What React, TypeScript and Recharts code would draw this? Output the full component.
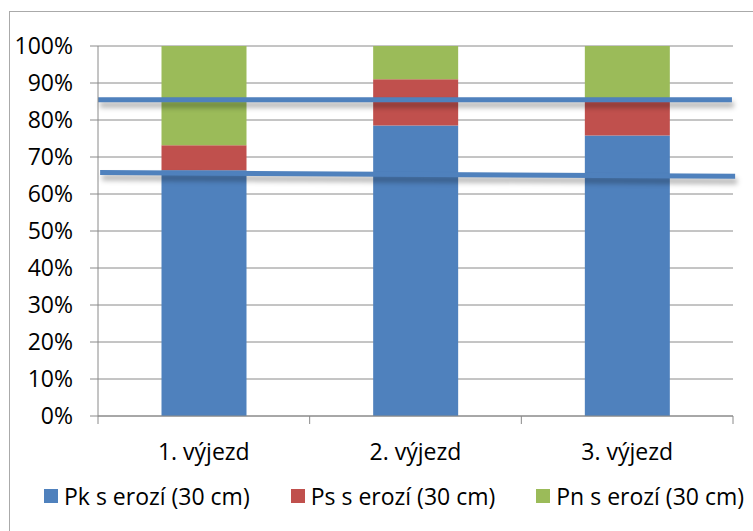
import React from 'react';
import { BarChart, Bar, XAxis, YAxis, CartesianGrid, ReferenceLine, Legend } from 'recharts';

// values (percent of the stack)
const trips = ['1. výjezd', '2. výjezd', '3. výjezd'];
const pkValues = [66.4, 78.5, 75.8];
const psValues = [6.8, 12.5, 10.0];
const pnValues = [26.8, 9.0, 14.2];

const seriesNames = ['Pk s erozí (30 cm)', 'Ps s erozí (30 cm)', 'Pn s erozí (30 cm)'];
const seriesColors = ['#4F81BD', '#C0504D', '#9BBB59'];
const yTicks = [0, 10, 20, 30, 40, 50, 60, 70, 80, 90, 100];
const boundaryTicks = [0, 1, 2, 3];

// the two hand-drawn blue lines (x in category units 0..3, y in %)
const upperLine = [{ x: 0, y: 85.5 }, { x: 2.995, y: 85.5 }];
const lowerLine = [{ x: 0.01, y: 65.8 }, { x: 3.01, y: 64.8 }];

const data = trips.map((name, i) => ({
    name,
    slot: i + 0.5,
    pk: pkValues[i],
    ps: psValues[i],
    pn: pnValues[i],
}));

const FONT = '"Open Sans", sans-serif';
const GRID = '#8a8a8a';

const ShadowLine = (props: any) => {
    const { x1, y1, x2, y2 } = props;
    return (
        <g>
            <line x1={x1 + 2} y1={y1 + 5} x2={x2 + 2} y2={y2 + 5} stroke="rgba(0,0,0,0.28)" strokeWidth={6} style={{ filter: 'blur(2.5px)' }} />
            <line x1={x1} y1={y1} x2={x2} y2={y2} stroke="#4F81BD" strokeWidth={5} />
        </g>
    );
};

const LegendContent = () => (
    <div style={{ display: 'flex', fontFamily: FONT, fontSize: 23, color: '#000', whiteSpace: 'nowrap' }}>
        {seriesNames.map((n, i) => (
            <div key={n} style={{ display: 'flex', alignItems: 'center', marginRight: 41 }}>
                <span style={{ display: 'inline-block', width: 14, height: 14, background: seriesColors[i], marginRight: 6 }} />
                <span>{n}</span>
            </div>
        ))}
    </div>
);

export default function App() {
    return (
        <div style={{ position: 'absolute', left: 0, top: 0, width: 753, height: 531, overflow: 'hidden', background: '#fff' }}>
            <div style={{ position: 'absolute', left: 9, top: 11, width: 800, height: 600, border: '1px solid #aaaaaa' }} />
            <div style={{ position: 'absolute', left: 0, top: 0 }}>
                <BarChart width={753} height={531} data={data} margin={{ top: 46, right: 20, left: 0, bottom: 75 }} barCategoryGap="30%">
                    <CartesianGrid vertical={false} stroke={GRID} strokeWidth={1} />
                    <XAxis xAxisId="a" dataKey="slot" type="number" domain={[0, 3]} ticks={boundaryTicks} interval={0} tickFormatter={() => ''}
                        tickSize={8} height={1} stroke={GRID} allowDataOverflow />
                    <XAxis xAxisId="b" dataKey="name" type="category" axisLine={false} tickLine={false} tickSize={0} tickMargin={27} height={39}
                        tick={{ fill: '#000', fontSize: 23, fontFamily: FONT }} />
                    <YAxis domain={[0, 100]} ticks={yTicks} width={98} tickSize={8} tickMargin={17} stroke={GRID} interval={0}
                        tickFormatter={(v) => `${v}%`} tick={{ fill: '#000', fontSize: 23, fontFamily: FONT }} />
                    <Bar xAxisId="b" dataKey="pk" name={seriesNames[0]} stackId="a" fill={seriesColors[0]} isAnimationActive={false} />
                    <Bar xAxisId="b" dataKey="ps" name={seriesNames[1]} stackId="a" fill={seriesColors[1]} isAnimationActive={false} />
                    <Bar xAxisId="b" dataKey="pn" name={seriesNames[2]} stackId="a" fill={seriesColors[2]} isAnimationActive={false} />
                    <ReferenceLine xAxisId="a" segment={upperLine} ifOverflow="visible" shape={ShadowLine} />
                    <ReferenceLine xAxisId="a" segment={lowerLine} ifOverflow="visible" shape={ShadowLine} />
                    <Legend layout="vertical" align="center" verticalAlign="middle" content={LegendContent}
                        wrapperStyle={{ position: 'absolute', left: 44, top: 480, width: 720, height: 30 }} />
                </BarChart>
            </div>
        </div>
    );
}
